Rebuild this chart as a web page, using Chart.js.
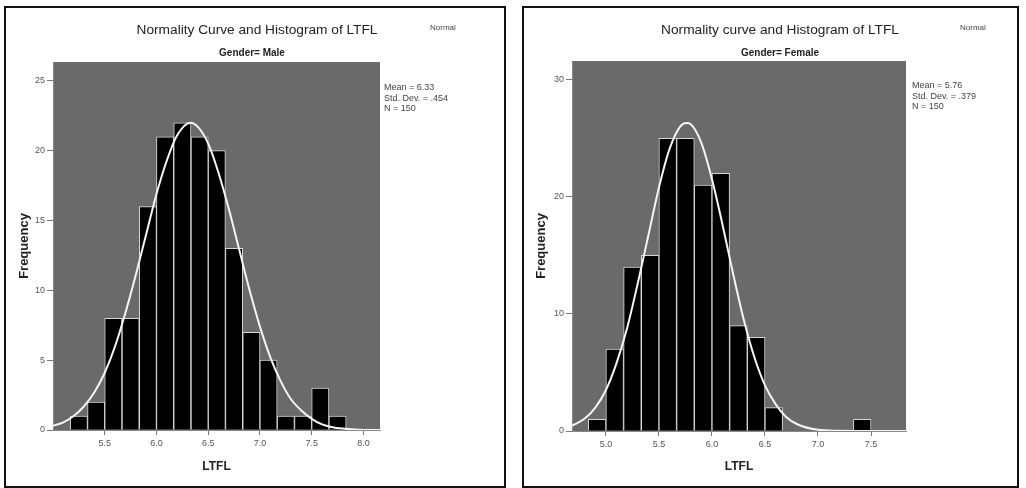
<!DOCTYPE html>
<html>
<head>
<meta charset="utf-8">
<script src="https://cdn.jsdelivr.net/npm/chart.js@4.4.0/dist/chart.umd.min.js"></script>
<style>
  body { margin: 0; background: #fff; }
  .box { position: absolute; top: 6px; height: 478px; border: 2px solid #111; }
  #boxMale { left: 4px; width: 498px; }
  #boxFemale { left: 522px; width: 493px; }
</style>
</head>
<body>
<div class="box" id="boxMale"><canvas id="chartMale"></canvas></div>
<div class="box" id="boxFemale"><canvas id="chartFemale"></canvas></div>
<script>
// setup - histogram bins are 1/6 wide, values are bin midpoints
const maleBins   = [5.250, 5.417, 5.583, 5.750, 5.917, 6.083, 6.250, 6.417, 6.583, 6.750, 6.917, 7.083, 7.250, 7.417, 7.583, 7.750];
const maleCounts = [1, 2, 8, 8, 16, 21, 22, 21, 20, 13, 7, 5, 1, 1, 3, 1];
// normal curve
const maleCurveX = [5.0, 5.1, 5.2, 5.3, 5.4, 5.5, 5.6, 5.7, 5.8, 5.9, 6.0, 6.1, 6.2, 6.33, 6.4, 6.5, 6.6, 6.7, 6.8, 6.9, 7.0, 7.1, 7.2, 7.3, 7.4, 7.5, 7.6, 7.7, 7.8, 8.0, 8.16];
const maleCurveY = [0.3, 0.55, 1.0, 1.7, 2.7, 4.1, 6.0, 8.4, 11.1, 14.0, 16.9, 19.3, 21.1, 22.0, 21.7, 20.5, 18.4, 15.8, 12.9, 10.0, 7.4, 5.2, 3.5, 2.2, 1.4, 0.8, 0.4, 0.2, 0.1, 0.0, 0.0];
const maleXTicks = [5.5, 6.0, 6.5, 7.0, 7.5, 8.0];
const maleYTicks = [0, 5, 10, 15, 20, 25];
const maleStats  = ['Mean = 6.33', 'Std. Dev. = .454', 'N = 150'];

const femaleBins   = [4.917, 5.083, 5.250, 5.417, 5.583, 5.750, 5.917, 6.083, 6.250, 6.417, 6.583, 6.750, 6.917, 7.083, 7.250, 7.417];
const femaleCounts = [1, 7, 14, 15, 25, 25, 21, 22, 9, 8, 2, 0, 0, 0, 0, 1];
const femaleCurveX = [4.68, 4.8, 4.9, 5.0, 5.1, 5.2, 5.3, 5.4, 5.5, 5.6, 5.7, 5.76, 5.8, 5.9, 6.0, 6.1, 6.2, 6.3, 6.4, 6.5, 6.6, 6.7, 6.8, 7.0, 7.2, 7.5, 7.83];
const femaleCurveY = [0.45, 1.06, 2.0, 3.5, 5.8, 8.8, 12.6, 16.7, 20.8, 24.1, 26.0, 26.3, 26.2, 24.6, 21.5, 17.6, 13.4, 9.5, 6.3, 3.9, 2.3, 1.2, 0.6, 0.1, 0.02, 0.0, 0.0];
const femaleXTicks = [5.0, 5.5, 6.0, 6.5, 7.0, 7.5];
const femaleYTicks = [0, 10, 20, 30];
const femaleStats  = ['Mean = 5.76', 'Std. Dev. = .379', 'N = 150'];

const tickFont = { family: '"Liberation Sans Narrow", "Liberation Sans", Arial, sans-serif', size: 9 };
const axisFont = { family: '"Liberation Sans", Arial, sans-serif', size: 12, weight: 'bold' };

// grey plot area + the texts around it
const panelText = {
  id: 'panelText',
  beforeDraw(chart, args, o) {
    const a = chart.chartArea, ctx = chart.ctx;
    ctx.save();
    ctx.fillStyle = '#6a6a6a';
    ctx.fillRect(a.left, a.top, a.right - a.left, a.bottom - a.top);
    ctx.restore();
  },
  afterDraw(chart, args, o) {
    const ctx = chart.ctx, a = chart.chartArea;
    ctx.save();
    ctx.textBaseline = 'middle';
    ctx.fillStyle = '#222';
    ctx.textAlign = 'center';
    ctx.font = '13.7px "Liberation Sans", Arial, sans-serif';
    ctx.fillText(o.title, o.titleX, 22);
    ctx.font = 'bold 10px "Liberation Sans", Arial, sans-serif';
    ctx.fillText(o.subtitle, o.subX, 45);
    ctx.textAlign = 'left';
    ctx.fillStyle = '#444';
    ctx.font = '8px "Liberation Sans", Arial, sans-serif';
    ctx.fillText('Normal', o.normalX, 20);
    ctx.font = '9px "Liberation Sans Narrow", "Liberation Sans", Arial, sans-serif';
    o.stats.forEach((s, i) => ctx.fillText(s, a.right + o.statsDx, o.statsY[i]));
    ctx.restore();
  }
};

function makeChart(id, p) {
  const data = {
    datasets: [{
      type: 'line',
      data: p.curveX.map((x, i) => ({ x: x, y: p.curveY[i] })),
      borderColor: '#f4f4f4',
      borderWidth: 2,
      pointRadius: 0,
      cubicInterpolationMode: 'monotone',
      fill: false
    },
    {
      type: 'bar',
      data: p.bins.map((x, i) => ({ x: x, y: p.counts[i] })),
      backgroundColor: '#000',
      borderColor: '#d6d6d6',
      borderWidth: 1,
      barPercentage: 1,
      categoryPercentage: 1
    }]
  };

  const config = {
    type: 'bar',
    data,
    plugins: [panelText],
    options: {
      responsive: true,
      maintainAspectRatio: false,
      animation: false,
      events: [],
      layout: { padding: { top: p.top, right: p.right, left: 0, bottom: 0 } },
      plugins: {
        legend: { display: false },
        tooltip: { enabled: false },
        panelText: p.text
      },
      scales: {
        x: {
          type: 'linear',
          min: p.xMin,
          max: p.xMax,
          offset: false,
          afterBuildTicks: s => { s.ticks = p.xTicks.map(v => ({ value: v })); },
          afterFit: s => { s.height = p.xHeight; },
          ticks: { font: tickFont, color: '#555', padding: 3, autoSkip: false, maxRotation: 0,
                   callback: v => v.toFixed(1) },
          grid: { offset: false, drawOnChartArea: false, drawTicks: true, tickLength: 5, color: '#777' },
          border: { display: true, color: '#888' },
          title: { display: true, text: 'LTFL', font: axisFont, color: '#222', padding: { bottom: 12 } }
        },
        y: {
          min: 0,
          max: p.yMax,
          afterBuildTicks: s => { s.ticks = p.yTicks.map(v => ({ value: v })); },
          afterFit: s => { s.width = p.yWidth; },
          ticks: { font: tickFont, color: '#555', padding: 2 },
          grid: { drawOnChartArea: false, drawTicks: true, tickLength: 6, color: '#777' },
          border: { display: true, color: '#888' },
          title: { display: true, text: 'Frequency', font: { family: axisFont.family, size: 13, weight: 'bold' },
                   color: '#222', padding: { top: p.yTitlePad } }
        }
      }
    }
  };
  return new Chart(document.getElementById(id), config);
}

// render init block
const maleChart = makeChart('chartMale', {
  bins: maleBins, counts: maleCounts, curveX: maleCurveX, curveY: maleCurveY,
  xTicks: maleXTicks, yTicks: maleYTicks,
  xMin: 5.0, xMax: 8.16, yMax: 26.35,
  top: 54, right: 124, xHeight: 56, yWidth: 47, yTitlePad: 11,
  text: { title: 'Normality Curve and Histogram of LTFL', titleX: 251, subtitle: 'Gender= Male', subX: 246,
          normalX: 424, stats: maleStats, statsDx: 4, statsY: [80, 91, 101] }
});

const femaleChart = makeChart('chartFemale', {
  bins: femaleBins, counts: femaleCounts, curveX: femaleCurveX, curveY: femaleCurveY,
  xTicks: femaleXTicks, yTicks: femaleYTicks,
  xMin: 4.68, xMax: 7.83, yMax: 31.6,
  top: 53, right: 111, xHeight: 55, yWidth: 48, yTitlePad: 10,
  text: { title: 'Normality curve and Histogram of LTFL', titleX: 256, subtitle: 'Gender= Female', subX: 256,
          normalX: 436, stats: femaleStats, statsDx: 6, statsY: [78, 89, 99] }
});
</script>
</body>
</html>
